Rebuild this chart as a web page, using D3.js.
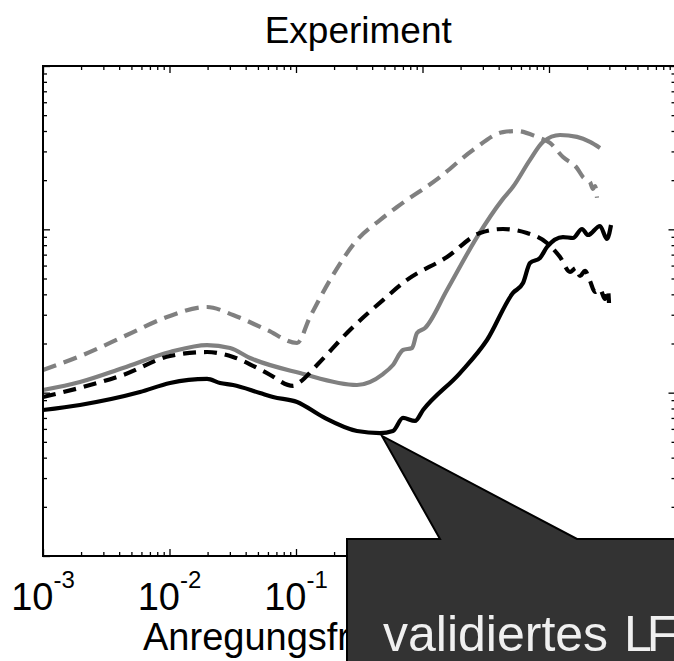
<!DOCTYPE html>
<html>
<head>
<meta charset="utf-8">
<script src="https://cdn.jsdelivr.net/npm/d3@7"></script>
<style>
html,body{margin:0;padding:0;background:#fff;}
svg{display:block;font-family:"Liberation Sans",Arial,Helvetica,sans-serif;}
</style>
</head>
<body>
<svg id="chart" width="674" height="661"></svg>
<script>
// ---- data ----
const titleText = "Experiment";
const xLabelText = "Anregungsfrequenz [Hz]";
const calloutWord = "validiertes ";
const calloutAbbr = "LFM";
const xMajorTicks = [1e-3, 1e-2, 1e-1, 1, 10, 100];
const xTickExponents = ["-3", "-2", "-1", "0", "1", "2"];
const yMajorTicks = [0.01, 0.1, 1, 10];

// gray dashed
const grayDashedF = [0.001,0.00207,0.00461,0.00955,0.0198,0.0318,0.059,0.102,0.129,0.196,0.3035,0.461,0.629,1.375,2.507,4.33,5.585,8.04,10.18,12.9,16.65,18.57,21.09,22.27,23.1,23.96];
const grayDashedV = [0.1376,0.1701,0.2254,0.2905,0.3345,0.299,0.2419,0.2014,0.2905,0.525,0.86,1.14,1.37,2.09,3.06,3.94,4.0,3.68,3.38,2.77,2.37,2.09,1.95,1.766,1.842,1.56];
// gray solid
const graySolidF = [0.001,0.00196,0.00429,0.0101,0.0198,0.0301,0.0433,0.1075,0.3035,0.487,0.584,0.701,0.826,0.905,1.047,1.562,2.697,4.251,5.193,7.075,8.97,12.22,16.65,21.09,25.3];
const graySolidV = [0.1038,0.1162,0.1416,0.1774,0.1957,0.1876,0.1631,0.1319,0.1114,0.1300,0.1477,0.1824,0.1876,0.2318,0.2489,0.425,0.897,1.51,1.82,2.66,3.43,3.78,3.68,3.43,3.15];
// black dashed
const blackDashedF = [0.001,0.00207,0.00429,0.0101,0.0198,0.0318,0.059,0.0947,0.1075,0.1466,0.267,0.487,0.754,1.562,2.848,4.329,6.70,9.64,12.22,14.66,16.35,17.58,19.26,21.09,23.1,25.3,27.71,29.27,29.81];
const blackDashedV = [0.0941,0.1083,0.1283,0.1677,0.1774,0.1654,0.1319,0.1099,0.1162,0.1477,0.2419,0.369,0.49,0.677,0.95,1.005,0.95,0.825,0.677,0.548,0.58,0.518,0.556,0.483,0.4135,0.431,0.3747,0.425,0.354];
// black solid
const blackSolidF = [0.001,0.00196,0.00585,0.0101,0.0198,0.0251,0.0318,0.0519,0.0658,0.102,0.1634,0.3035,0.461,0.584,0.701,0.872,1.01,1.979,3.235,5.193,6.23,7.075,8.49,9.64,12.9,15.48,18.24,20.34,25.3,28.74,30.92];
const blackSolidV = [0.0783,0.0841,0.1009,0.1146,0.1213,0.1146,0.1114,0.0995,0.0941,0.0877,0.071,0.0583,0.0566,0.0583,0.07,0.0671,0.0783,0.1319,0.2101,0.408,0.469,0.622,0.668,0.779,0.897,0.885,1.005,0.923,1.048,0.873,1.063];

const calloutTip = [0.478, 0.0543];

// ---- layout ----
const svg = d3.select("#chart");
const L = 43, R = 675.5, T = 66, B = 556;
const x = d3.scaleLog().domain([1e-3, 1e2]).range([L, R]);
const y = d3.scaleLog().domain([0.01, 10]).range([B, T]);

const series = [
  {f: grayDashedF, v: grayDashedV, color: "#808080", dash: "14,8"},
  {f: graySolidF, v: graySolidV, color: "#808080", dash: null},
  {f: blackDashedF, v: blackDashedV, color: "#000000", dash: "13,8"},
  {f: blackSolidF, v: blackSolidV, color: "#000000", dash: null}
];

const line = d3.line().x(d => x(d[0])).y(d => y(d[1])).curve(d3.curveMonotoneX);
series.forEach(s => {
  svg.append("path")
    .datum(s.f.map((f, i) => [f, s.v[i]]))
    .attr("d", line)
    .attr("fill", "none")
    .attr("stroke", s.color)
    .attr("stroke-width", 4.2)
    .attr("stroke-linejoin", "round")
    .attr("stroke-dasharray", s.dash);
});

// ---- axes (ticks inward on all four sides) ----
const xMinor = x.ticks().filter(t => !xMajorTicks.some(m => Math.abs(m - t) / m < 1e-6));
const yMinor = y.ticks().filter(t => !yMajorTicks.some(m => Math.abs(m - t) / m < 1e-6));

function styleAxis(g) {
  g.select(".domain").remove();
  g.selectAll(".tick line").attr("stroke", "#000").attr("stroke-width", 1.3);
  g.selectAll(".tick text").remove();
}
// bottom
svg.append("g").attr("transform", `translate(0,${B})`)
  .call(d3.axisBottom(x).tickValues(xMajorTicks).tickSize(-7).tickFormat("")).call(styleAxis);
svg.append("g").attr("transform", `translate(0,${B})`)
  .call(d3.axisBottom(x).tickValues(xMinor).tickSize(-4).tickFormat("")).call(styleAxis);
// top
svg.append("g").attr("transform", `translate(0,${T})`)
  .call(d3.axisTop(x).tickValues(xMajorTicks).tickSize(-7).tickFormat("")).call(styleAxis);
svg.append("g").attr("transform", `translate(0,${T})`)
  .call(d3.axisTop(x).tickValues(xMinor).tickSize(-4).tickFormat("")).call(styleAxis);
// left
svg.append("g").attr("transform", `translate(${L},0)`)
  .call(d3.axisLeft(y).tickValues(yMajorTicks).tickSize(-7).tickFormat("")).call(styleAxis);
svg.append("g").attr("transform", `translate(${L},0)`)
  .call(d3.axisLeft(y).tickValues(yMinor).tickSize(-4).tickFormat("")).call(styleAxis);
// right
svg.append("g").attr("transform", `translate(${R},0)`)
  .call(d3.axisRight(y).tickValues(yMajorTicks).tickSize(-7).tickFormat("")).call(styleAxis);
svg.append("g").attr("transform", `translate(${R},0)`)
  .call(d3.axisRight(y).tickValues(yMinor).tickSize(-4).tickFormat("")).call(styleAxis);

// box
svg.append("rect").attr("x", L).attr("y", T).attr("width", R - L).attr("height", B - T)
  .attr("fill", "none").attr("stroke", "#000").attr("stroke-width", 2);

// x tick labels 10^n
xMajorTicks.forEach((t, i) => {
  const txt = svg.append("text")
    .attr("x", x(t)).attr("y", 610)
    .attr("text-anchor", "middle")
    .attr("fill", "#000");
  txt.append("tspan").attr("font-size", 38).text("10");
  txt.append("tspan").attr("font-size", 24).attr("dy", -22).text(xTickExponents[i]);
});

// x axis label
svg.append("text").attr("x", 143).attr("y", 650).attr("font-size", 38)
  .attr("fill", "#000").text(xLabelText);

// title
svg.append("text").attr("x", (L + R) / 2 - 1).attr("y", 43).attr("text-anchor", "middle")
  .attr("font-size", 37).attr("fill", "#000").text(titleText);

// callout
const tx = x(calloutTip[0]), ty = y(calloutTip[1]);
const boxL = 347, boxT = 539, boxR = 690, boxB = 675;
const pts = [[boxL, boxT], [440, boxT], [tx, ty], [577, boxT], [boxR, boxT], [boxR, boxB], [boxL, boxB]];
svg.append("path")
  .attr("d", "M" + pts.map(p => p.join(",")).join("L") + "Z")
  .attr("fill", "#333333").attr("stroke", "#000").attr("stroke-width", 2).attr("stroke-linejoin", "miter");
const ct = svg.append("text").attr("x", 383).attr("y", 651).attr("font-size", 50)
  .attr("fill", "#f0f0f0");
ct.append("tspan").text(calloutWord);
ct.append("tspan").attr("dx", 2).attr("letter-spacing", -5).text(calloutAbbr);
</script>
</body>
</html>
